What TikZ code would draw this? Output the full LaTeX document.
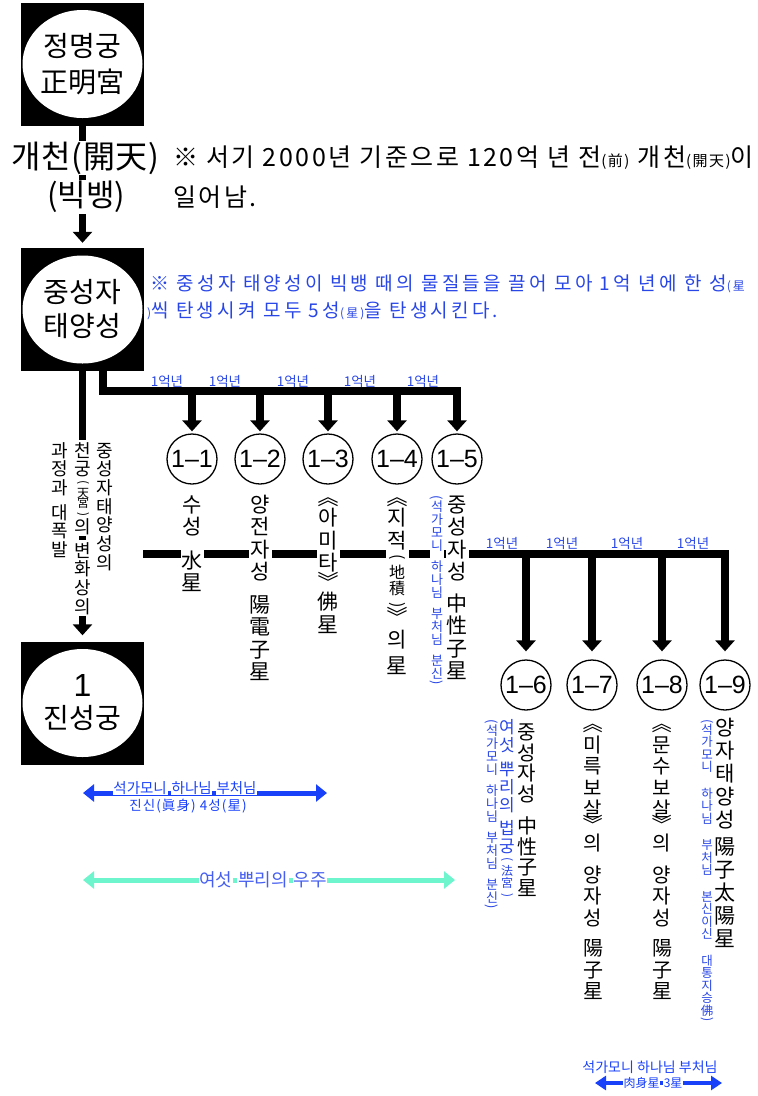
\documentclass[tikz,border=0pt]{standalone}
\usepackage{fontspec}
\setmainfont{Noto Sans CJK KR}
\newfontfamily\arialf{Liberation Sans}
\usetikzlibrary{arrows.meta,calc}
\definecolor{nblue}{RGB}{40,70,230}
\definecolor{ablue}{RGB}{25,65,250}
\definecolor{aqua}{RGB}{110,245,205}
\definecolor{tblue}{RGB}{70,95,240}
\newcommand{\fsz}[1]{\fontsize{#1}{#1}\selectfont}
\newcommand{\fr}{\rule{0pt}{0.88em}}
\newcommand{\wb}[1]{{\setlength\fboxsep{0.8pt}\colorbox{white}{#1}}}
% vertical presentation of brackets
\newcommand{\vpl}{\rotatebox[origin=c]{-90}{(}}
\newcommand{\vpr}{\rotatebox[origin=c]{-90}{)}}
\newcommand{\vdl}{\rotatebox[origin=c]{-90}{《}}
\newcommand{\vdr}{\rotatebox[origin=c]{-90}{》}}
\begin{document}
\begin{tikzpicture}[x=1pt,y=-1pt,
  box/.style={fill=black, minimum width=123, minimum height=123, inner sep=0, align=center,
    path picture={\fill[white] (path picture bounding box.center) ellipse [x radius=60, y radius=54];}},
  circ/.style={circle, draw, line width=1.3, minimum size=50, inner sep=0, font=\arialf\fsz{25}},
  arr/.style={line width=7.5, line join=miter, -{Triangle[width=19pt,length=11pt]}},
  barr/.style={line width=5, {Triangle[width=17pt,length=11pt]}-{Triangle[width=17pt,length=11pt]}},
  yr/.style={font=\fsz{13.5}, text=nblue, inner sep=0},
  vt/.style={align=center, inner sep=1pt, fill=white, anchor=north},
  note/.style={anchor=west, inner sep=0}
]
\useasboundingbox (0,0) rectangle (758,1096);
% boxes
\node[box, font=\fontsize{28}{36}\selectfont] (b1) at (82.5,64) {정명궁\\正明宮};
\node[box, font=\fontsize{28}{34}\selectfont] (b2) at (82.5,309.5) {중성자\\태양성};
\node[box, font=\fontsize{28}{32}\selectfont] (b3) at (82.5,703) {{\arialf\fsz{32}1}\\진성궁};
% circles
\node[circ] (c11) at (192,459) {1–1};
\node[circ] (c12) at (260,459) {1–2};
\node[circ] (c13) at (328,459) {1–3};
\node[circ] (c14) at (397,459) {1–4};
\node[circ] (c15) at (457,459) {1–5};
\node[circ] (c16) at (526,685) {1–6};
\node[circ] (c17) at (592,685) {1–7};
\node[circ] (c18) at (662,685) {1–8};
\node[circ] (c19) at (725,685) {1–9};
% main connectors
\draw[arr, shorten >=5pt] (b1.south) -- (b2.north);
\draw[arr, shorten >=6pt] (b2.south) -- (b3.north);
% first branch
\coordinate (j0) at (103,371);
\coordinate (j1) at (103,391);
\draw[arr, shorten >=2pt] (j0) -- (j1) -- (j1 -| c15) -- (c15.north);
\foreach \c in {c11,c12,c13,c14} \draw[arr, shorten >=2pt] (j1 -| \c) -- (\c.north);
% second branch
\coordinate (m0) at (143,554);
\draw[arr, shorten >=8pt] (m0) -- (m0 -| c19) -- (c19.north);
\foreach \c in {c16,c17,c18} \draw[arr, shorten >=8pt] (m0 -| \c) -- (\c.north);
% year labels
\foreach \x [count=\i] in {167,225,293,360,423} \node[yr] (ya\i) at (\x,381) {1억년};
\foreach \x [count=\i] in {502,562,627,693} \node[yr] (yb\i) at (\x,543) {1억년};
% top texts
\node[font=\fsz{32}\addfontfeatures{LetterSpace=2}, inner sep=1pt, fill=white] (kc) at (85.5,158) {개천(開天)};
\node[font=\fsz{31}, inner sep=1pt, fill=white] (bb) at (86,197) {(빅뱅)};
\node[note, font=\fsz{25}\addfontfeatures{LetterSpace=10}] (n1) at (173,158) {※ 서기 2000년 기준으로 120억 년 전{\fsz{15}(前)} 개천{\fsz{15}(開天)}이};
\node[note, font=\fsz{25}\addfontfeatures{LetterSpace=10}] (n2) at (173,197) {일어남.};
\node[note, font=\fsz{19}\addfontfeatures{LetterSpace=17}, text=nblue] (n3) at (150,284) {※ 중성자 태양성이 빅뱅 때의 물질들을 끌어 모아 1억 년에 한 성{\fsz{12}(星}};
\node[note, font=\fsz{19}\addfontfeatures{LetterSpace=17}, text=nblue] (n4) at (147,311) {{\fsz{12})}씩 탄생시켜 모두 5성{\fsz{12}(星)}을 탄생시킨다.};
% left vertical texts
\node[vt, font=\fontsize{18}{18.7}\selectfont] (l1) at (105,440) {\fr 중\\성\\자\\태\\양\\성\\의};
\node[vt, font=\fontsize{18}{18.7}\selectfont] (l2a) at (83,440) {\fr 천\\궁\\[-8pt]{\fsz{12}\vpl}\\[-8pt]{\fsz{12}天}\\[-8pt]{\fsz{12}宮}\\[-8pt]{\fsz{12}\vpr}\\[-4pt]의};
\node[vt, font=\fontsize{18}{18.7}\selectfont] (l2b) at (83,540) {\fr 변\\화\\상\\의};
\node[vt, font=\fontsize{18}{18.7}\selectfont] (l3) at (60,440) {\fr 과\\정\\과\\[6pt]대\\폭\\발};
% first row vertical texts
\node[vt, font=\fontsize{21}{22}\selectfont] (t11) at (192,492.5) {\fr 수\\성\\[12pt]水\\星};
\node[vt, font=\fontsize{21}{22.5}\selectfont] (t12) at (260,492.5) {\fr 양\\전\\자\\성\\[10pt]陽\\電\\子\\星};
\node[vt, font=\fontsize{21}{22.5}\selectfont] (t13) at (328,485.5) {\fr \vdl\\[-2pt]아\\미\\타\\[-3pt]\vdr\\[-3pt]佛\\星};
\node[vt, font=\fontsize{21}{22.5}\selectfont] (t14) at (397,485.5) {\fr \vdl\\[-2pt]지\\적\\[-9pt]{\fsz{16}\vpl}\\[-6pt]{\fsz{16}地}\\[-6pt]{\fsz{16}積}\\[-7pt]{\fsz{16}\vpr}\\[-8pt]\vdr\\의\\[4pt]星};
\node[vt, font=\fontsize{21}{22.5}\selectfont] (t15) at (457,492.5) {\fr 중\\성\\자\\성\\[9pt]中\\性\\子\\星};
\node[vt, font=\fontsize{13}{13}\selectfont, text=nblue, inner sep=0.5pt] (u15) at (437,490) {\fr \vpl\\[-4pt]석\\가\\모\\니\\[8pt]하\\나\\님\\[8pt]부\\처\\님\\[8pt]분\\신\\[-4pt]\vpr};
% second row vertical texts
\node[vt, font=\fontsize{20}{20.5}\selectfont] (t16) at (527,721) {\fr 중\\성\\자\\성\\[12pt]中\\性\\子\\星};
\node[vt, font=\fontsize{17}{18}\selectfont, text=nblue, inner sep=0.5pt] (u16a) at (507,717.5) {\fr 여\\섯\\[6pt]뿌\\리\\의\\[5pt]법\\궁\\[-7pt]{\fsz{12}\vpl}\\[-6pt]{\fsz{12}法}\\[-6pt]{\fsz{12}宮}\\[-6pt]{\fsz{12}\vpr}};
\node[vt, font=\fontsize{13}{13}\selectfont, text=nblue, inner sep=0.5pt] (u16b) at (492,714) {\fr \vpl\\[-4pt]석\\가\\모\\니\\[8pt]하\\나\\님\\[8pt]부\\처\\님\\[8pt]분\\신\\[-4pt]\vpr};
\node[vt, font=\fontsize{20}{21.5}\selectfont] (t17) at (593,712) {\fr \vdl\\미\\륵\\보\\살\\[-6pt]\vdr\\[-3pt]의\\[10pt]양\\자\\성\\[9pt]陽\\子\\星};
\node[vt, font=\fontsize{20}{21.5}\selectfont] (t18) at (662,712) {\fr \vdl\\문\\수\\보\\살\\[-6pt]\vdr\\[-3pt]의\\[10pt]양\\자\\성\\[9pt]陽\\子\\星};
\node[vt, font=\fontsize{21}{23}\selectfont] (t19) at (725,715.5) {\fr 양\\자\\태\\양\\성\\[4pt]陽\\子\\太\\陽\\星};
\node[vt, font=\fontsize{12.5}{12.5}\selectfont, text=nblue, inner sep=0.5pt] (u19) at (707,714) {\fr \vpl\\[-4pt]석\\가\\모\\니\\[14pt]하\\나\\님\\[14pt]부\\처\\님\\[14pt]본\\신\\이\\신\\[14pt]대\\통\\지\\승\\佛\\[-4pt]\vpr};
% bottom arrows
\coordinate (ba0) at (83,793);
\coordinate (ba1) at (327,793);
\draw[barr, ablue] (ba0) -- (ba1);
\node[font=\fsz{14.5}, text=ablue, inner sep=0] (bt1) at (185,788) {\wb{석가모니} \wb{하나님} \wb{부처님}};
\node[font=\fsz{13.5}\addfontfeatures{LetterSpace=8}, text=ablue, inner sep=0] (bt2) at (188,806) {진신(眞身) 4성(星)};
\coordinate (ca0) at (83,880);
\coordinate (ca1) at (455,880);
\draw[barr, aqua] (ca0) -- (ca1);
\node[font=\fsz{18}, text=tblue, inner sep=0] (ct) at (263,880) {\wb{여섯} \wb{뿌리의} \wb{우주}};
\node[font=\fsz{14}, text=ablue, inner sep=0] (br1) at (650,1067) {석가모니 하나님 부처님};
\coordinate (da0) at (595,1083);
\coordinate (da1) at (722,1083);
\draw[line width=4.5, ablue, {Triangle[width=14pt,length=11pt]}-{Triangle[width=14pt,length=11pt]}] (da0) -- (da1);
\node[font=\fsz{12}, text=ablue, inner sep=0] (br2) at (653,1083) {\wb{肉身星} \wb{3星}};
\end{tikzpicture}
\end{document}
